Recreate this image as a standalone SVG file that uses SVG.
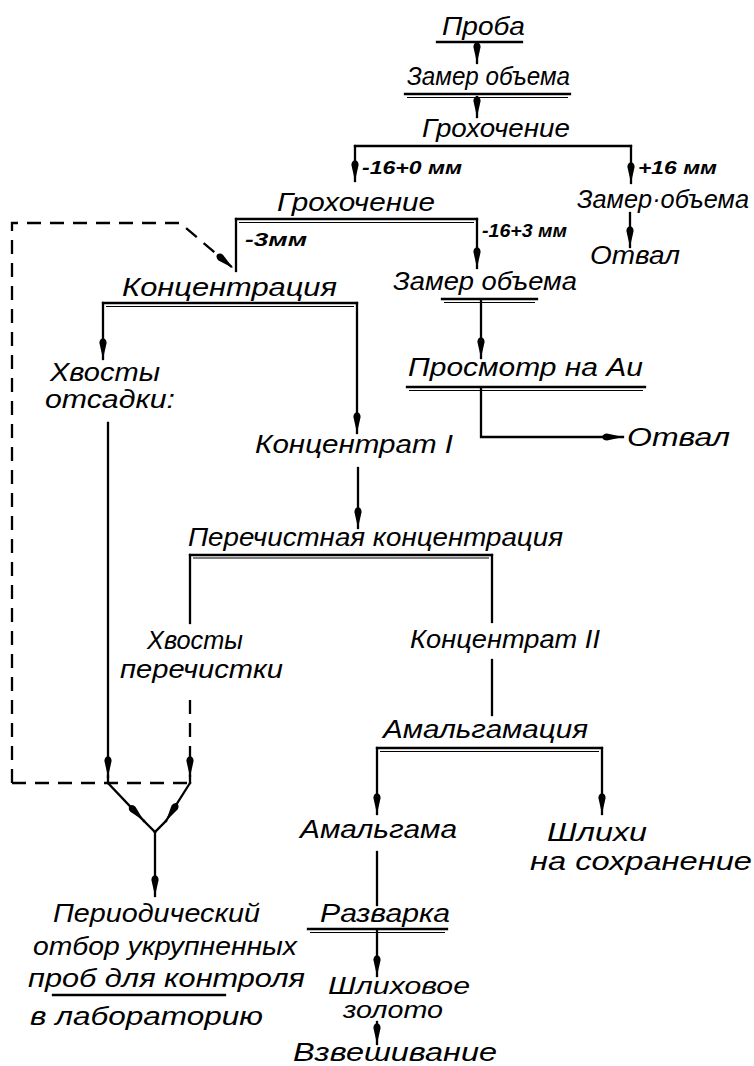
<svg xmlns="http://www.w3.org/2000/svg" width="754" height="1066" viewBox="0 0 754 1066">
<defs>
<style>
.t{font-family:"Liberation Sans","DejaVu Sans",sans-serif;font-style:italic;font-size:26px;fill:#000}
.sm{font-size:23px}
.s{font-family:"Liberation Sans","DejaVu Sans",sans-serif;font-style:italic;font-weight:bold;font-size:19px;fill:#000}
.ln{stroke:#000;stroke-width:2.3;fill:none;stroke-linecap:square}
.thin{stroke:#000;stroke-width:1.2;fill:none}
.d{stroke:#000;stroke-width:2.3;fill:none;stroke-dasharray:14 9}
.a{marker-end:url(#ah)}
</style>
<marker id="ah" markerUnits="userSpaceOnUse" markerWidth="22" markerHeight="10" refX="21" refY="5" orient="auto" viewBox="0 0 22 10">
<path d="M0,5 Q1,1.4 5,1.4 L21,5 L5,8.6 Q1,8.6 0,5 Z" fill="#000"/>
</marker>
</defs>
<rect width="754" height="1066" fill="#fff"/>

<g id="connectors">
<line class="ln a" x1="477" y1="43" x2="477" y2="63"/>
<line class="ln a" x1="477" y1="97" x2="477" y2="117"/>
<line class="ln" x1="355" y1="146" x2="631" y2="146"/>
<line class="ln a" x1="355" y1="146" x2="355" y2="181"/>
<line class="ln a" x1="631" y1="146" x2="631" y2="183"/>
<line class="ln a" x1="630" y1="213" x2="630" y2="247"/>
<line class="ln" x1="236" y1="219" x2="477" y2="219"/>
<line class="thin" x1="239" y1="222.5" x2="474" y2="222.5"/>
<line class="ln" x1="236" y1="219" x2="236" y2="271"/>
<line class="ln a" x1="477" y1="219" x2="477" y2="268"/>
<path class="d a" d="M12,783 L12,223 L180,223 L233,268"/>
<line class="d" x1="12" y1="783" x2="190" y2="783"/>
<line class="d a" x1="190" y1="700" x2="190" y2="777"/>
<line class="ln" x1="190" y1="776" x2="190" y2="783"/>
<line class="ln" x1="103" y1="303" x2="357" y2="303"/>
<line class="thin" x1="106" y1="306.5" x2="354" y2="306.5"/>
<line class="ln a" x1="103" y1="303" x2="103" y2="359"/>
<line class="ln a" x1="357" y1="303" x2="357" y2="433"/>
<line class="ln a" x1="108" y1="423" x2="108" y2="777"/>
<line class="ln" x1="108" y1="776" x2="108" y2="783"/>
<line class="ln a" x1="108" y1="783" x2="144" y2="821"/>
<line class="ln" x1="144" y1="821" x2="155" y2="832"/>
<line class="ln a" x1="190" y1="783" x2="166" y2="821"/>
<line class="ln" x1="166" y1="821" x2="155" y2="832"/>
<line class="ln a" x1="155" y1="832" x2="155" y2="896"/>
<line class="ln a" x1="481" y1="300" x2="481" y2="358"/>
<path class="ln a" d="M481,389 L481,437 L623,437"/>
<line class="ln a" x1="358" y1="468" x2="358" y2="528"/>
<line class="ln" x1="190" y1="555" x2="492" y2="555"/>
<line class="thin" x1="193" y1="558" x2="489" y2="558"/>
<line class="ln" x1="190" y1="555" x2="190" y2="623"/>
<line class="ln" x1="492" y1="555" x2="492" y2="622"/>
<line class="ln" x1="492" y1="660" x2="492" y2="715"/>
<line class="ln" x1="377" y1="748" x2="602" y2="748"/>
<line class="thin" x1="380" y1="751.5" x2="599" y2="751.5"/>
<line class="ln a" x1="377" y1="748" x2="377" y2="814"/>
<line class="ln a" x1="602" y1="748" x2="602" y2="814"/>
<line class="ln" x1="377" y1="852" x2="377" y2="905"/>
<line class="ln a" x1="377" y1="931" x2="377" y2="976"/>
<line class="ln a" x1="377" y1="1022" x2="377" y2="1044"/>
<text class="s" x="362" y="174" textLength="100" lengthAdjust="spacingAndGlyphs">-16+0 мм</text>
<text class="s" x="638" y="174" textLength="79" lengthAdjust="spacingAndGlyphs">+16 мм</text>
<text class="s" x="245" y="246" textLength="62" lengthAdjust="spacingAndGlyphs">-3мм</text>
<text class="s" x="482" y="237" textLength="85" lengthAdjust="spacingAndGlyphs">-16+3 мм</text>
</g>

<g id="n-proba">
<text class="t" x="442" y="35" textLength="83" lengthAdjust="spacingAndGlyphs">Проба</text>
<line class="ln" x1="437" y1="42" x2="522" y2="42"/>
</g>
<g id="n-zamer1">
<text class="t" x="407" y="85" textLength="163" lengthAdjust="spacingAndGlyphs">Замер объема</text>
<line class="ln" x1="405" y1="94" x2="570" y2="94"/>
<line class="thin" x1="407" y1="97.5" x2="568" y2="97.5"/>
</g>
<g id="n-groh1">
<text class="t" x="422" y="137" textLength="148" lengthAdjust="spacingAndGlyphs">Грохочение</text>
</g>
<g id="n-zamer-right">
<text class="t" x="577" y="208" textLength="172" lengthAdjust="spacingAndGlyphs">Замер·объема</text>
</g>
<g id="n-otval1">
<text class="t" x="590" y="264" textLength="90" lengthAdjust="spacingAndGlyphs">Отвал</text>
</g>
<g id="n-groh2">
<text class="t" x="277" y="211" textLength="158" lengthAdjust="spacingAndGlyphs">Грохочение</text>
</g>
<g id="n-konc">
<text class="t" x="122" y="296" textLength="215" lengthAdjust="spacingAndGlyphs">Концентрация</text>
</g>
<g id="n-zamer2">
<text class="t" x="393" y="290" textLength="184" lengthAdjust="spacingAndGlyphs">Замер объема</text>
<line class="ln" x1="442" y1="299" x2="537" y2="299"/>
<line class="thin" x1="444" y1="302.5" x2="535" y2="302.5"/>
</g>
<g id="n-prosmotr">
<text class="t" x="408" y="376" textLength="235" lengthAdjust="spacingAndGlyphs">Просмотр на Au</text>
<line class="ln" x1="407" y1="387" x2="645" y2="387"/>
<line class="thin" x1="409" y1="390.5" x2="643" y2="390.5"/>
</g>
<g id="n-otval2">
<text class="t" x="627" y="446" textLength="103" lengthAdjust="spacingAndGlyphs">Отвал</text>
</g>
<g id="n-hvosty1">
<text class="t" x="50" y="381" textLength="110" lengthAdjust="spacingAndGlyphs">Хвосты</text>
<text class="t" x="45" y="408" textLength="130" lengthAdjust="spacingAndGlyphs">отсадки:</text>
</g>
<g id="n-koncentrat1">
<text class="t" x="255" y="453" textLength="198" lengthAdjust="spacingAndGlyphs">Концентрат I</text>
</g>
<g id="n-perech">
<text class="t" x="188" y="546" textLength="375" lengthAdjust="spacingAndGlyphs">Перечистная концентрация</text>
</g>
<g id="n-hvosty2">
<text class="t" x="147" y="649" textLength="96" lengthAdjust="spacingAndGlyphs">Хвосты</text>
<text class="t" x="120" y="678" textLength="163" lengthAdjust="spacingAndGlyphs">перечистки</text>
</g>
<g id="n-koncentrat2">
<text class="t" x="410" y="648" textLength="190" lengthAdjust="spacingAndGlyphs">Концентрат II</text>
</g>
<g id="n-amalg">
<text class="t" x="383" y="738" textLength="205" lengthAdjust="spacingAndGlyphs">Амальгамация</text>
</g>
<g id="n-amalgama">
<text class="t" x="300" y="838" textLength="157" lengthAdjust="spacingAndGlyphs">Амальгама</text>
</g>
<g id="n-shlihi">
<text class="t" x="547" y="841" textLength="100" lengthAdjust="spacingAndGlyphs">Шлихи</text>
<text class="t" x="530" y="870" textLength="222" lengthAdjust="spacingAndGlyphs">на сохранение</text>
</g>
<g id="n-razvarka">
<text class="t" x="320" y="922" textLength="130" lengthAdjust="spacingAndGlyphs">Разварка</text>
<line class="ln" x1="308" y1="929" x2="447" y2="929"/>
<line class="thin" x1="310" y1="932.5" x2="445" y2="932.5"/>
</g>
<g id="n-shlih-zoloto">
<text class="t sm" x="328" y="994" textLength="142" lengthAdjust="spacingAndGlyphs">Шлиховое</text>
<text class="t sm" x="343" y="1018" textLength="100" lengthAdjust="spacingAndGlyphs">золото</text>
</g>
<g id="n-vzvesh">
<text class="t" x="293" y="1061" textLength="204" lengthAdjust="spacingAndGlyphs">Взвешивание</text>
</g>
<g id="n-periodic">
<text class="t" x="53" y="922" textLength="207" lengthAdjust="spacingAndGlyphs">Периодический</text>
<text class="t" x="33" y="955" textLength="264" lengthAdjust="spacingAndGlyphs">отбор укрупненных</text>
<text class="t" x="28" y="987" textLength="277" lengthAdjust="spacingAndGlyphs">проб для контроля</text>
<line class="ln" x1="53" y1="995" x2="225" y2="995"/>
<text class="t" x="30" y="1025" textLength="233" lengthAdjust="spacingAndGlyphs">в лабораторию</text>
</g>
</svg>
